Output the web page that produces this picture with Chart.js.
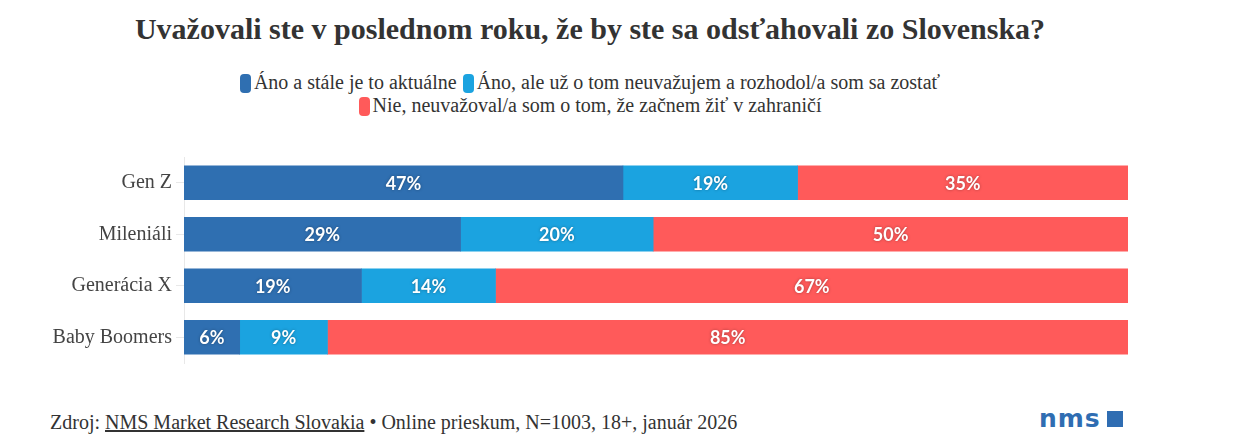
<!DOCTYPE html>
<html>
<head>
<meta charset="utf-8">
<script src="https://cdn.jsdelivr.net/npm/chart.js@4"></script>
<style>
  body { margin:0; width:1235px; height:444px; background:#fff; position:relative; overflow:hidden;
         font-family:"Liberation Serif", serif; color:#333; }
  #title { position:absolute; top:12px; left:0; width:1180px; text-align:center;
           font-size:30px; font-weight:bold; color:#333; }
  #legend { position:absolute; top:71px; left:0; width:1180px; text-align:center; font-size:20px; line-height:23px; color:#333; }
  #legend .it { display:inline-block; margin:0 3px; }
  #legend .sw { display:inline-block; width:11px; height:19px; border-radius:4px; vertical-align:-4px; margin-right:3px; }
  #wrap { position:absolute; left:0; top:141px; width:1235px; height:238px; }
  #foot { position:absolute; left:50px; top:411px; font-size:20px; color:#333; }
  #foot u { text-decoration:underline; }
  #logo { position:absolute; left:1039px; top:404px; font-family:"DejaVu Sans", sans-serif; font-weight:bold;
          font-size:25px; color:#2f6db2; letter-spacing:1px; }
  #logo span { display:inline-block; width:16px; height:16px; background:#2f6db2; margin-left:6px; vertical-align:0px; }
</style>
</head>
<body>
<div id="title">Uvažovali ste v poslednom roku, že by ste sa odsťahovali zo Slovenska?</div>
<div id="legend"></div>
<div id="wrap"><canvas id="c"></canvas></div>
<div id="foot">Zdroj: <u>NMS Market Research Slovakia</u> • Online prieskum, N=1003, 18+, január 2026</div>
<div id="logo">nms<span></span></div>
<script>
const categories = ['Gen Z', 'Mileniáli', 'Generácia X', 'Baby Boomers'];
const seriesNames = [
  'Áno a stále je to aktuálne',
  'Áno, ale už o tom neuvažujem a rozhodol/a som sa zostať',
  'Nie, neuvažoval/a som o tom, že začnem žiť v zahraničí'
];
const anoAktualne = [46.5, 29.3, 18.8, 5.9];
const anoUzNie = [18.5, 20.4, 14.2, 9.3];
const nie = [35.0, 50.3, 67.0, 84.8];
const colors = ['#2f6fb1', '#1ba3e0', '#ff5a5a'];

// legenda
let leg = document.getElementById('legend');
seriesNames.forEach((n, i) => {
  let s = document.createElement('span');
  s.className = 'it';
  s.innerHTML = '<span class="sw" style="background:' + colors[i] + '"></span>' + n;
  leg.appendChild(s);
  if (i == 1) leg.appendChild(document.createElement('br'));
});

const labelsPlugin = {
  id: 'vals',
  afterDatasetsDraw(chart) {
    let ctx = chart.ctx;
    ctx.save();
    ctx.font = 'bold 18px Lato, sans-serif';
    ctx.textAlign = 'center';
    ctx.textBaseline = 'middle';
    ctx.fillStyle = '#fff';
    ctx.shadowColor = 'rgba(0,0,0,0.35)';
    ctx.shadowBlur = 3;
    chart.data.datasets.forEach((ds, di) => {
      chart.getDatasetMeta(di).data.forEach((bar, i) => {
        let x = (bar.x + bar.base) / 2;
        ctx.fillText(Math.round(ds.data[i]) + '%', x, bar.y + 1);
      });
    });
    ctx.restore();
  }
};

new Chart(document.getElementById('c'), {
  type: 'bar',
  data: {
    labels: categories,
    datasets: [anoAktualne, anoUzNie, nie].map((d, i) => ({
      label: seriesNames[i],
      data: d,
      backgroundColor: colors[i],
      borderWidth: 0,
      barThickness: 34
    }))
  },
  options: {
    indexAxis: 'y',
    responsive: true,
    maintainAspectRatio: false,
    animation: false,
    layout: { padding: { left: 0, right: 107, top: 0, bottom: 0 } },
    plugins: { legend: { display: false }, tooltip: { enabled: false } },
    scales: {
      x: { stacked: true, min: 0, max: 100, display: false },
      y: {
        stacked: true,
        afterFit: s => { s.width = 184; },
        border: { display: true, color: '#e8e8e8', width: 1 },
        grid: { offset: false, drawOnChartArea: false, drawTicks: true, tickLength: 8, color: '#e8e8e8' },
        ticks: { color: '#444', padding: 4, font: { family: 'Liberation Serif', size: 20 } }
      }
    }
  },
  plugins: [labelsPlugin]
});
</script>
</body>
</html>
